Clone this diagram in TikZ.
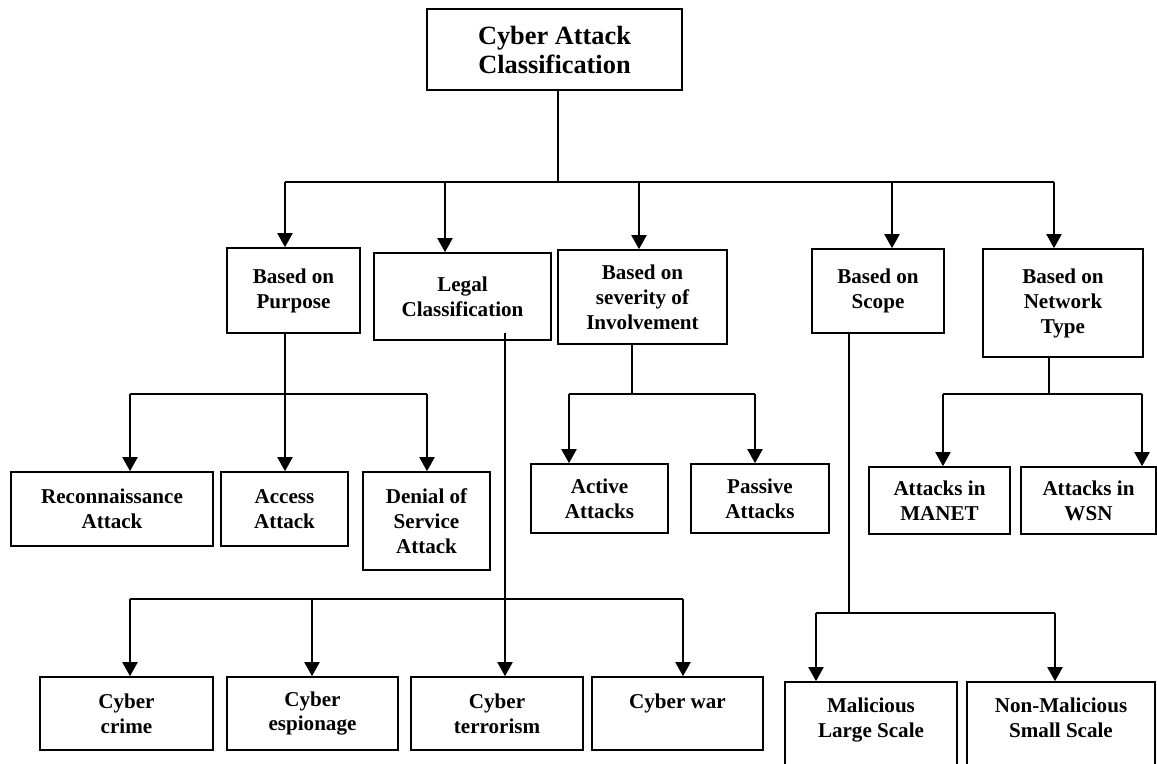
\documentclass[tikz,border=0pt]{standalone}
\usepackage{fontspec}
\setmainfont{Liberation Serif}
\usetikzlibrary{arrows.meta}

\begin{document}
\begin{tikzpicture}[
  box/.style={
    draw, line width=0.9pt, inner sep=0pt, align=center,
    font=\fontsize{12}{14.2}\selectfont\bfseries
  },
  rootbox/.style={box, font=\fontsize{15}{16.5}\selectfont\bfseries},
  wire/.style={line width=1pt},
  arrow/.style={line width=1.3pt, -{Triangle[width=8.5pt,length=8pt]}},
]
\useasboundingbox (0,0) rectangle (23.14,-15.26);
\clip (0,0) rectangle (23.14,-15.26);
% Root
\node[rootbox, minimum width=5.10cm, minimum height=1.62cm] (root) at (11.09,-0.99) {Cyber Attack\\Classification};
% Level 1
\node[box, minimum width=2.66cm, minimum height=1.70cm] (pur) at (5.87,-5.81) {Based on\\Purpose};
\node[box, minimum width=3.54cm, minimum height=1.74cm] (leg) at (9.25,-5.93) {Legal\\Classification};
\node[box, minimum width=3.38cm, minimum height=1.88cm] (sev) at (12.85,-5.94) {Based on\\severity of\\Involvement};
\node[box, minimum width=2.64cm, minimum height=1.68cm] (sco) at (17.56,-5.82) {Based on\\Scope};
\node[box, minimum width=3.20cm, minimum height=2.16cm] (net) at (21.26,-6.06) {Based on\\Network\\Type};
% Level 2
\node[box, minimum width=4.04cm, minimum height=1.48cm] (rec) at (2.24,-10.18) {Reconnaissance\\Attack};
\node[box, minimum width=2.54cm, minimum height=1.48cm] (acc) at (5.69,-10.18) {Access\\Attack};
\node[box, minimum width=2.54cm, minimum height=1.96cm] (dos) at (8.53,-10.42) {Denial of\\Service\\Attack};
\node[box, minimum width=2.74cm, minimum height=1.38cm] (act) at (11.99,-9.97) {Active\\Attacks};
\node[box, minimum width=2.76cm, minimum height=1.38cm] (pas) at (15.20,-9.97) {Passive\\Attacks};
\node[box, minimum width=2.82cm, minimum height=1.34cm] (man) at (18.79,-10.01) {Attacks in\\MANET};
\node[box, minimum width=2.70cm, minimum height=1.34cm] (wsn) at (21.77,-10.01) {Attacks in\\WSN};
% Level 3
\node[box, minimum width=3.46cm, minimum height=1.46cm] (cri) at (2.53,-14.27) {Cyber\\crime};
\node[box, minimum width=3.42cm, minimum height=1.46cm] (esp) at (6.25,-14.27) {Cyber\\espionage};
\node[box, minimum width=3.44cm, minimum height=1.46cm] (ter) at (9.94,-14.27) {Cyber\\terrorism};
\node[box, minimum width=3.42cm, minimum height=1.46cm] (war) at (13.55,-14.27) {Cyber war\\\mbox{}};
\node[box, minimum width=3.44cm, minimum height=1.94cm] (mal) at (17.42,-14.61) {Malicious\\Large Scale\\\mbox{}};
\node[box, minimum width=3.76cm, minimum height=1.94cm] (nmal) at (21.22,-14.61) {Non-Malicious\\Small Scale\\\mbox{}};

% root -> level 1
\coordinate (r0) at (11.16,-3.64);
\coordinate (t1) at (5.70,-3.64);
\coordinate (t2) at (8.90,-3.64);
\coordinate (t3) at (12.78,-3.64);
\coordinate (t4) at (17.84,-3.64);
\coordinate (t5) at (21.08,-3.64);
\draw[wire] (r0 |- root.south) -- (r0);
\draw[wire] (t1) -- (t5);
\draw[arrow] (t1) -- (t1 |- pur.north);
\draw[arrow] (t2) -- (t2 |- leg.north);
\draw[arrow] (t3) -- (t3 |- sev.north);
\draw[arrow] (t4) -- (t4 |- sco.north);
\draw[arrow] (t5) -- (t5 |- net.north);

% purpose
\coordinate (p1) at (2.60,-7.88);
\coordinate (p2) at (5.70,-7.88);
\coordinate (p3) at (8.54,-7.88);
\draw[wire] (p2 |- pur.south) -- (p2);
\draw[wire] (p1) -- (p3);
\draw[arrow] (p1) -- (p1 |- rec.north);
\draw[arrow] (p2) -- (p2 |- acc.north);
\draw[arrow] (p3) -- (p3 |- dos.north);

% legal
\coordinate (l0) at (10.10,-6.66);
\coordinate (l1) at (2.60,-11.98);
\coordinate (l2) at (6.24,-11.98);
\coordinate (l3) at (10.10,-11.98);
\coordinate (l4) at (13.66,-11.98);
\draw[wire] (l0) -- (l3);
\draw[wire] (l1) -- (l4);
\draw[arrow] (l1) -- (l1 |- cri.north);
\draw[arrow] (l2) -- (l2 |- esp.north);
\draw[arrow] (l3) -- (l3 |- ter.north);
\draw[arrow] (l4) -- (l4 |- war.north);

% severity
\coordinate (s0) at (12.64,-7.88);
\coordinate (s1) at (11.38,-7.88);
\coordinate (s2) at (15.10,-7.88);
\draw[wire] (s0 |- sev.south) -- (s0);
\draw[wire] (s1) -- (s2);
\draw[arrow] (s1) -- (s1 |- act.north);
\draw[arrow] (s2) -- (s2 |- pas.north);

% scope
\coordinate (c0) at (16.98,-12.26);
\coordinate (c1) at (16.32,-12.26);
\coordinate (c2) at (21.10,-12.26);
\draw[wire] (c0 |- sco.south) -- (c0);
\draw[wire] (c1) -- (c2);
\draw[arrow] (c1) -- (c1 |- mal.north);
\draw[arrow] (c2) -- (c2 |- nmal.north);

% network
\coordinate (n0) at (20.98,-7.88);
\coordinate (n1) at (18.86,-7.88);
\coordinate (n2) at (22.84,-7.88);
\draw[wire] (n0 |- net.south) -- (n0);
\draw[wire] (n1) -- (n2);
\draw[arrow] (n1) -- (n1 |- man.north);
\draw[arrow] (n2) -- (n2 |- wsn.north);
\end{tikzpicture}
\end{document}
